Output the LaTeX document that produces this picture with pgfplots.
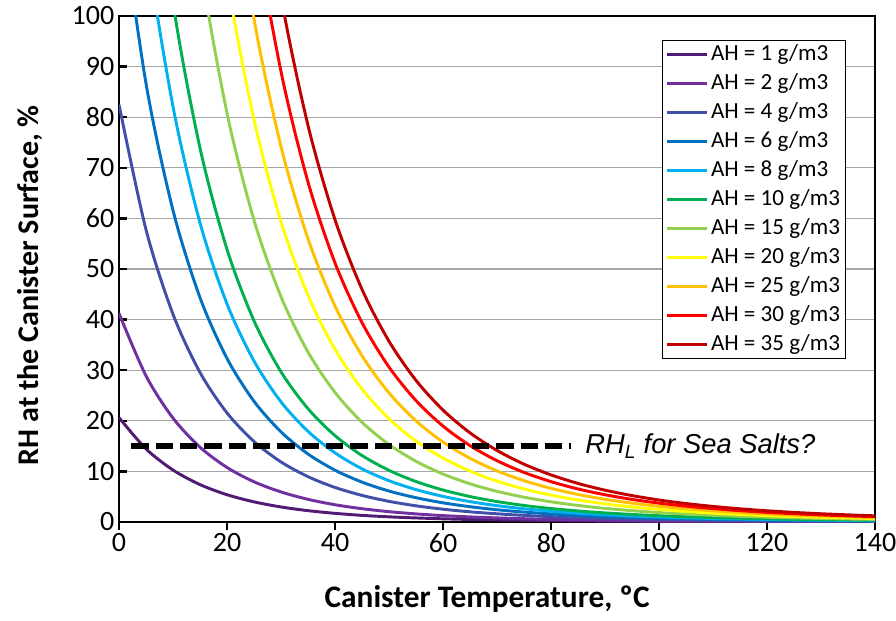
\documentclass[border=0pt]{standalone}
\usepackage{pgfplots}
\pgfplotsset{compat=1.18}
\usepackage{pgfplotstable}
\usepackage{fontspec}
\setmainfont{Carlito}
\newfontfamily\arialfont{Liberation Sans}
\definecolor{cA}{HTML}{521B73}
\definecolor{cB}{HTML}{7030A0}
\definecolor{cC}{HTML}{4050A8}
\definecolor{cD}{HTML}{0070C0}
\definecolor{cE}{HTML}{00B0F0}
\definecolor{cF}{HTML}{00B050}
\definecolor{cG}{HTML}{92D050}
\definecolor{cH}{HTML}{FFFF00}
\definecolor{cI}{HTML}{FFC000}
\definecolor{cJ}{HTML}{FF0000}
\definecolor{cK}{HTML}{C00000}
\pgfplotstableread{
T a1 a2 a4 a6 a8 a10 a15 a20 a25 a30 a35
0 20.63 41.25 82.50 123.75 165.00 206.25 309.38 412.50 515.63 618.75 721.88
5 14.45 28.89 57.78 86.68 115.57 144.46 216.69 288.92 361.15 433.38 505.61
10 10.27 20.53 41.06 61.59 82.12 102.65 153.98 205.30 256.63 307.95 359.28
15 7.39 14.78 29.56 44.35 59.13 73.91 110.87 147.82 184.78 221.73 258.69
20 5.39 10.78 21.56 32.33 43.11 53.89 80.84 107.78 134.73 161.67 188.62
25 3.98 7.95 15.91 23.86 31.82 39.77 59.66 79.54 99.43 119.31 139.20
30 2.97 5.94 11.87 17.81 23.74 29.68 44.52 59.36 74.20 89.04 103.88
35 2.24 4.48 8.96 13.44 17.92 22.39 33.59 44.79 55.99 67.18 78.38
40 1.71 3.41 6.83 10.24 13.66 17.07 25.61 34.14 42.68 51.21 59.75
45 1.31 2.63 5.26 7.88 10.51 13.14 19.71 26.28 32.85 39.41 45.98
50 1.02 2.04 4.08 6.12 8.16 10.21 15.31 20.41 25.52 30.62 35.72
55 0.80 1.60 3.20 4.80 6.40 8.00 12.00 15.99 19.99 23.99 27.99
60 0.63 1.26 2.53 3.79 5.06 6.32 9.48 12.64 15.80 18.96 22.12
65 0.50 1.01 2.01 3.02 4.03 5.03 7.55 10.07 12.59 15.10 17.62
70 0.40 0.81 1.62 2.42 3.23 4.04 6.06 8.08 10.10 12.12 14.14
75 0.33 0.65 1.31 1.96 2.61 3.27 4.90 6.53 8.17 9.80 11.43
80 0.27 0.53 1.06 1.60 2.13 2.66 3.99 5.32 6.65 7.98 9.31
85 0.22 0.44 0.87 1.31 1.74 2.18 3.27 4.36 5.45 6.53 7.62
90 0.18 0.36 0.72 1.08 1.44 1.80 2.69 3.59 4.49 5.39 6.29
95 0.15 0.30 0.60 0.89 1.19 1.49 2.24 2.98 3.73 4.47 5.22
100 0.12 0.25 0.50 0.75 0.99 1.24 1.86 2.49 3.11 3.73 4.35
105 0.10 0.21 0.42 0.63 0.83 1.04 1.56 2.09 2.61 3.13 3.65
110 0.09 0.18 0.35 0.53 0.70 0.88 1.32 1.76 2.20 2.64 3.08
115 0.07 0.15 0.30 0.45 0.60 0.75 1.12 1.49 1.86 2.24 2.61
120 0.06 0.13 0.25 0.38 0.51 0.63 0.95 1.27 1.59 1.90 2.22
125 0.05 0.11 0.22 0.33 0.43 0.54 0.81 1.09 1.36 1.63 1.90
130 0.05 0.09 0.19 0.28 0.37 0.47 0.70 0.93 1.17 1.40 1.63
135 0.04 0.08 0.16 0.24 0.32 0.40 0.60 0.80 1.01 1.21 1.41
140 0.03 0.07 0.14 0.21 0.28 0.35 0.52 0.70 0.87 1.05 1.22
}\datatable
\begin{document}
\begin{tikzpicture}
\begin{axis}[
  at={(0,0)}, anchor=south west,
  scale only axis, width=567pt, height=379.5pt,
  xmin=0, xmax=140, ymin=0, ymax=100,
  xtick={0,20,...,140}, ytick={0,10,...,100},
  xtick pos=bottom, ytick pos=left,
  ymajorgrids, grid style={color=black!35, line width=0.9pt},
  axis line style={line width=2pt, black},
  major tick length=6pt,
  tick style={black, line width=1.8pt},
  x tick style={yshift=-6pt},
  /pgf/number format/assume math mode=true,
  tick label style={font=\fontsize{21}{25}\selectfont},
  xticklabel style={yshift=-5pt},
  xlabel={Canister Temperature, ºC},
  ylabel={RH at the Canister Surface, \%},
  xlabel style={font=\bfseries\fontsize{23.5}{27}\selectfont, at={(axis description cs:0.487,-0.152)}, anchor=center},
  ylabel style={font=\bfseries\fontsize{22.5}{26}\selectfont, at={(axis description cs:-0.118,0.468)}, anchor=center},
  legend cell align=left,
  legend image code/.code={\draw[line width=2.6pt] (0pt,0pt) -- (30pt,0pt);},
  legend style={at={(rel axis cs:0.9616,0.9526)}, anchor=north east, draw=black, line width=1pt, fill=white,
    font=\fontsize{17.3}{20}\selectfont, inner xsep=2pt, inner ysep=2pt, row sep=4.75pt,
    nodes={inner ysep=0pt, inner xsep=2pt, text height=13pt, text depth=4pt}, /tikz/every odd column/.append style={column sep=0pt}},
  every axis plot/.append style={line width=2.2pt, smooth},
]
\addplot[cA] table[x=T,y=a1] {\datatable}; \addlegendentry{AH = 1 g/m3}
\addplot[cB] table[x=T,y=a2] {\datatable}; \addlegendentry{AH = 2 g/m3}
\addplot[cC] table[x=T,y=a4] {\datatable}; \addlegendentry{AH = 4 g/m3}
\addplot[cD] table[x=T,y=a6] {\datatable}; \addlegendentry{AH = 6 g/m3}
\addplot[cE] table[x=T,y=a8] {\datatable}; \addlegendentry{AH = 8 g/m3}
\addplot[cF] table[x=T,y=a10] {\datatable}; \addlegendentry{AH = 10 g/m3}
\addplot[cG] table[x=T,y=a15] {\datatable}; \addlegendentry{AH = 15 g/m3}
\addplot[cH] table[x=T,y=a20] {\datatable}; \addlegendentry{AH = 20 g/m3}
\addplot[cI] table[x=T,y=a25] {\datatable}; \addlegendentry{AH = 25 g/m3}
\addplot[cJ] table[x=T,y=a30] {\datatable}; \addlegendentry{AH = 30 g/m3}
\addplot[cK] table[x=T,y=a35] {\datatable}; \addlegendentry{AH = 35 g/m3}
\addplot[black, line width=4pt, dash pattern=on 13pt off 5.25pt, forget plot, sharp plot] coordinates {(2.3,15) (83.7,15)};
\node[anchor=west, inner sep=0pt, font=\arialfont\itshape\fontsize{20.5}{24}\selectfont] at (axis cs:86.3,15) {RH\textsubscript{L} for Sea Salts?};
\end{axis}
\pgfresetboundingbox
\path[use as bounding box] (-89.25pt,-74.25pt) rectangle (582.75pt,391.5pt);
\end{tikzpicture}
\end{document}
